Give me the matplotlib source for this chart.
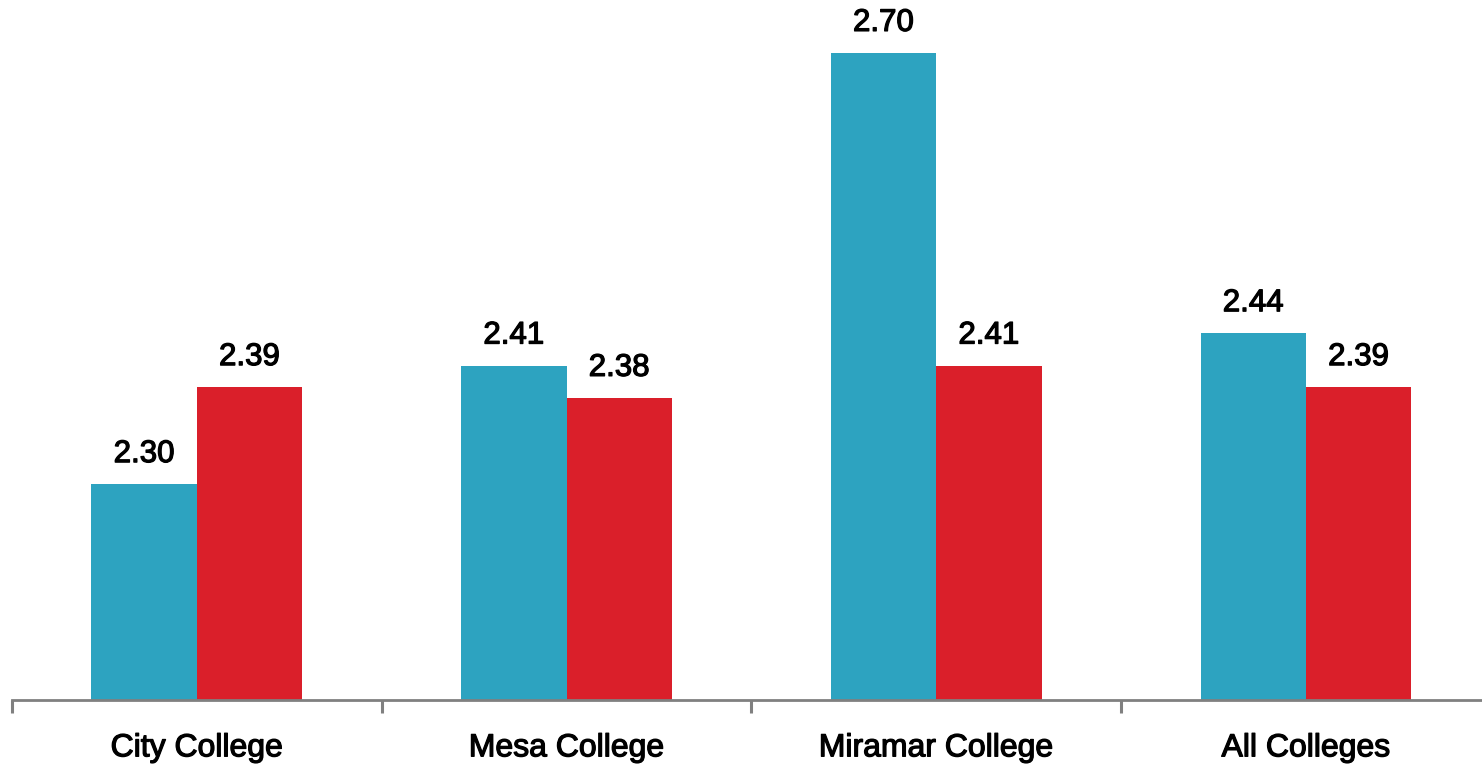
import matplotlib
matplotlib.use("Agg")
import matplotlib.pyplot as plt
import matplotlib.patheffects as pe
import numpy as np

categories = ["City College", "Mesa College", "Miramar College", "All Colleges"]
series_a = [2.30, 2.41, 2.70, 2.44]
series_b = [2.39, 2.38, 2.41, 2.39]
value_labels_a = ["2.30", "2.41", "2.70", "2.44"]
value_labels_b = ["2.39", "2.38", "2.41", "2.39"]

color_a = "#2DA3C0"
color_b = "#DA1F2A"

plt.rcParams["font.family"] = ["Liberation Sans", "DejaVu Sans"]
heavy = [pe.withStroke(linewidth=0.9, foreground="black")]

W, H, DPI = 1482, 766, 100
fig = plt.figure(figsize=(W / DPI, H / DPI), dpi=DPI)
left_px, base_px = 12, 700
ax = fig.add_axes([left_px / W, (H - base_px) / H, 1 - left_px / W, base_px / H])

x = np.arange(len(categories))
bw = 0.285
ax.bar(x - bw / 2, series_a, width=bw, color=color_a, linewidth=0)
ax.bar(x + bw / 2, series_b, width=bw, color=color_b, linewidth=0)

ymin = 2.10
px_per_unit = 1078
ax.set_ylim(ymin, ymin + base_px / px_per_unit)
cat_px = 369.7
ax.set_xlim(-0.5, -0.5 + (W - left_px) / cat_px)

for i in range(len(categories)):
    ax.annotate(value_labels_a[i], (x[i] - bw / 2, series_a[i]), xytext=(0, 11),
                textcoords="offset points", ha="center", va="bottom", fontsize=22.5,
                path_effects=heavy)
    ax.annotate(value_labels_b[i], (x[i] + bw / 2, series_b[i]), xytext=(0, 11),
                textcoords="offset points", ha="center", va="bottom", fontsize=22.5,
                path_effects=heavy)

for s in ["top", "right", "left"]:
    ax.spines[s].set_visible(False)
ax.spines["bottom"].set_color("#808080")
ax.spines["bottom"].set_linewidth(2)
ax.set_yticks([])

ax.set_xticks(x)
ax.set_xticklabels(categories, fontsize=23)
for lbl in ax.get_xticklabels():
    lbl.set_path_effects(heavy)
ax.tick_params(axis="x", which="major", length=0, pad=24)
ax.set_xticks([-0.5, 0.5, 1.5, 2.5], minor=True)
ax.tick_params(axis="x", which="minor", length=9, width=2.2, color="#808080", direction="out")

fig.savefig("out.png", dpi=DPI)
